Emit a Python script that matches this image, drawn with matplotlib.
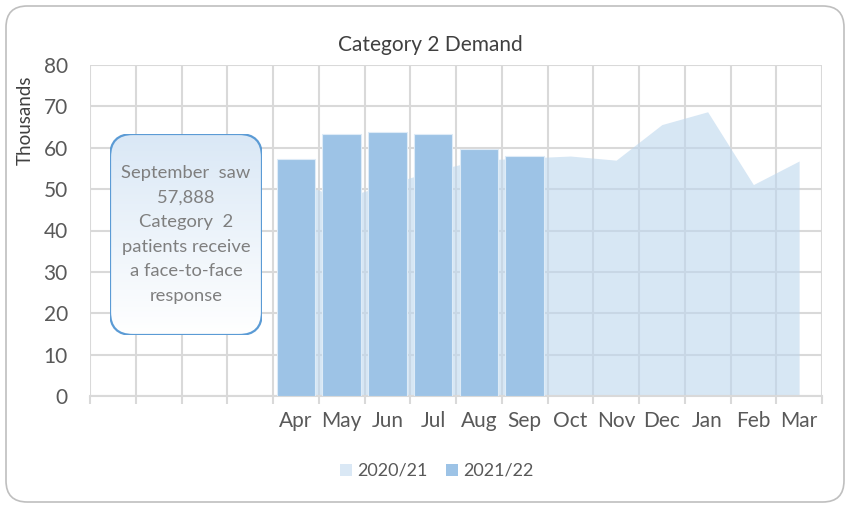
import numpy as np
import matplotlib
matplotlib.use("Agg")
import matplotlib.pyplot as plt
from matplotlib.patches import FancyBboxPatch, Patch
from matplotlib.colors import LinearSegmentedColormap

plt.rcParams['font.family'] = ['Lato', 'DejaVu Sans']

#=====================Data===============
# 16 category slots, first four left empty (callout sits there)
months = ['', '', '', '', 'Apr', 'May', 'Jun', 'Jul', 'Aug', 'Sep',
          'Oct', 'Nov', 'Dec', 'Jan', 'Feb', 'Mar']
demand_2021 = [51.7, 47.8, 51.1, 54.4, 57.0, 57.5, 58.0, 57.0, 65.6, 68.7, 51.1, 56.8]   # Apr..Mar (thousands)
demand_2122 = [57.4, 63.3, 63.8, 63.3, 59.6, 57.888]                                       # Apr..Sep (thousands)
callout = "September  saw\n57,888\nCategory  2\npatients receive\na face-to-face\nresponse"

#=====================Colours===============
c_area = '#BDD7EE'
c_bar = '#9DC3E6'
c_grid = '#D9D9D9'
c_text = '#595959'

#=====================Plot===============
fig = plt.figure(figsize=(8.5, 5.08), dpi=100)
ax = fig.add_axes([90/850, 1-396/508, 732/850, 331/508])

x = np.arange(len(months))
offset = 4
ax.fill_between(x[offset:offset+len(demand_2021)], demand_2021, 0,
                color=c_area, alpha=0.6, linewidth=0, zorder=2)
ax.bar(x[offset:offset+len(demand_2122)], demand_2122, width=0.84,
       color=c_bar, edgecolor='#DEEBF7', linewidth=0.8, zorder=3)

ax.set_xlim(-0.5, len(months)-0.5)
ax.set_ylim(0, 80)
ax.set_yticks(np.arange(0, 81, 10))
ax.set_xticks(x)
ax.set_xticklabels(months)
ax.set_xticks(np.arange(-0.5, len(months), 1), minor=True)
ax.tick_params(axis='x', which='major', length=0, pad=11, labelsize=15, labelcolor=c_text)
ax.tick_params(axis='x', which='minor', length=6, width=1.5, color=c_grid)
ax.tick_params(axis='y', length=0, pad=16, labelsize=15, labelcolor=c_text)
ax.grid(axis='y', color=c_grid, linewidth=1.5, zorder=1)
ax.grid(axis='x', which='minor', color=c_grid, linewidth=1.5, zorder=1)
ax.set_axisbelow(True)
for s in ['top', 'right', 'left']:
    ax.spines[s].set_visible(False)
ax.spines['bottom'].set_color(c_grid)
ax.spines['bottom'].set_linewidth(1.5)

fig.text(430/850, 1-45/508, 'Category 2 Demand', ha='center', va='center',
         fontsize=15, color='#404040')
fig.text(25/850, 1-120/508, 'Thousands', rotation=90, ha='center', va='center',
         fontsize=13.5, color='#404040')

# legend
handles = [Patch(facecolor='#DAE8F5', edgecolor='none', label='2020/21'),
           Patch(facecolor=c_bar, edgecolor='none', label='2021/22')]
fig.legend(handles=handles, loc='center', bbox_to_anchor=(437/850, 1-471/508), ncol=2,
           frameon=False, fontsize=13, handlelength=0.65, handleheight=0.65,
           handletextpad=0.3, columnspacing=1.0, labelcolor=c_text)

# callout box with gradient fill
axb = fig.add_axes([110/850, 1-335/508, 152/850, 201/508])
axb.set_xlim(0, 1)
axb.set_ylim(0, 1)
axb.axis('off')
box = FancyBboxPatch((0, 0), 1, 1, boxstyle='round,pad=0,rounding_size=0.15',
                     mutation_aspect=0.76, transform=axb.transAxes,
                     facecolor='none', edgecolor='#5B9BD5', linewidth=1.6, zorder=3)
axb.add_patch(box)
grad = LinearSegmentedColormap.from_list('g', ['#FFFFFF', '#DAE8F6'])
img = axb.imshow(np.linspace(0, 1, 100).reshape(-1, 1), cmap=grad, origin='lower',
                 extent=[0, 1, 0, 1], aspect='auto', zorder=1)
img.set_clip_path(box)
axb.text(0.5, 0.5, callout, ha='center', va='center', fontsize=13.2,
         color='#7F7F7F', linespacing=1.65, zorder=4)

# outer chart frame
frame = FancyBboxPatch((6/850, 6/508), 838/850, 496/508,
                       boxstyle='round,pad=0,rounding_size=0.025', mutation_aspect=850/508,
                       transform=fig.transFigure, facecolor='none', edgecolor='#BFBFBF',
                       linewidth=1.2)
fig.patches.append(frame)

plt.savefig('out.png', dpi=100)
